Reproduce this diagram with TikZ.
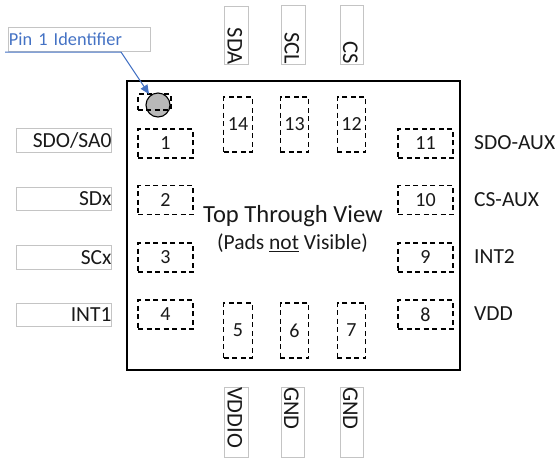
\documentclass[tikz,border=0pt]{standalone}
\usepackage{fontspec}
\setmainfont{Carlito}
\usetikzlibrary{arrows.meta}
\definecolor{pinblue}{RGB}{68,114,196}
\definecolor{boxgray}{RGB}{196,196,196}
\definecolor{txt}{RGB}{25,25,25}
\tikzset{
  padbox/.style={draw=black,line width=1.25pt,dash pattern=on 5pt off 3.5pt,minimum width=#1,inner sep=0pt,font=\fontsize{20}{20}\selectfont,text=txt},
  hpad/.style={padbox=55pt,minimum height=29pt},
  vpad/.style={padbox=28.5pt,minimum height=55pt},
  lblh/.style={draw=boxgray,line width=1pt,minimum height=23.5pt,text width=95pt,align=right,inner sep=0pt,font=\fontsize{21.5}{21.5}\selectfont,text=txt},
  lblvt/.style={draw=boxgray,line width=1pt,rotate=-90,minimum height=23.5pt,text width=58.5pt,text height=18pt,text depth=0pt,align=right,inner sep=0pt,font=\fontsize{22.5}{22.5}\selectfont,text=txt},
  lblvb/.style={draw=boxgray,line width=1pt,rotate=-90,minimum height=23.5pt,text width=70pt,text height=18pt,text depth=0pt,align=left,inner sep=0pt,font=\fontsize{22.5}{22.5}\selectfont,text=txt},
  plain/.style={anchor=west,inner sep=0pt,font=\fontsize{21.5}{21.5}\selectfont,text=txt},
}
\begin{document}
\begin{tikzpicture}[x=1pt,y=-1pt]
\useasboundingbox (0,0) rectangle (559,459);
% package body
\node[draw=black,line width=2.2pt,minimum width=333pt,minimum height=289pt,inner sep=0pt] (chip) at (293.5,225.5) {};
% pads
\node[hpad] (p1) at (165.5,143.5) {1};
\node[hpad] (p2) at (165.5,200) {2};
\node[hpad] (p3) at (165.5,257.5) {3};
\node[hpad] (p4) at (165.5,314.5) {4};
\node[vpad] (p5) at (238,330.5) {5};
\node[vpad] (p6) at (294.5,330.5) {6};
\node[vpad] (p7) at (351.5,330.5) {7};
\node[hpad] (p8) at (425.5,314.5) {8};
\node[hpad] (p9) at (425.5,257.5) {9};
\node[hpad] (p10) at (425.5,200) {10};
\node[hpad] (p11) at (425.5,143.5) {11};
\node[vpad] (p12) at (351.5,124.5) {12};
\node[vpad] (p13) at (294.5,124.5) {13};
\node[vpad] (p14) at (238,124.5) {14};
% pin 1 marker
\node[draw=black,line width=1.25pt,dash pattern=on 5pt off 3.5pt,minimum width=33pt,minimum height=16pt,inner sep=0pt] (pinpad) at (154.5,102) {};
\node[circle,draw=black,line width=1.1pt,fill=black!28,minimum size=24pt,inner sep=0pt] (dot) at (158,105) {};
\draw[black,line width=1.1pt,dash pattern=on 5pt off 3.5pt] (146,110) -- (171,110);
% centre text
\node[inner sep=0pt,font=\fontsize{24.6}{24.6}\selectfont,text=txt] (title) at (293,216.5) {Top Through View};
\node[inner sep=0pt,font=\fontsize{21.5}{21.5}\selectfont,text=txt] (sub) at (292.5,243) {(Pads \underline{not} Visible)};
% left labels
\node[lblh] (lsdo) at (64,140.5) {SDO/SA0};
\node[lblh] (lsdx) at (64,199) {SDx};
\node[lblh] (lscx) at (64,257.5) {SCx};
\node[lblh] (lint) at (64,315) {INT1};
% right labels
\node[plain] (rsdo) at (474,143) {SDO-AUX};
\node[plain] (rcs) at (474,200) {CS-AUX};
\node[plain] (rint) at (474,257) {INT2};
\node[plain] (rvdd) at (474,314) {VDD};
% top labels
\node[lblvt] (tsda) at (236.5,35.5) {SDA};
\node[lblvt] (tscl) at (293.5,35) {SCL};
\node[lblvt] (tcs) at (352,35) {CS};
% bottom labels
\node[lblvb] (bvdd) at (236.5,422) {VDDIO};
\node[lblvb] (bgnd) at (293,422) {GND};
\node[lblvb] (bgnb) at (352,422) {GND};
% pin 1 callout
\node[draw=boxgray,line width=1pt,minimum width=142pt,minimum height=23.5pt,text width=140pt,align=left,inner sep=1pt,font=\fontsize{18.3}{18.3}\selectfont,text=pinblue] (pinlbl) at (79,39.5) {Pin 1 Identifier};
\coordinate (calla) at (5,52);
\coordinate (callb) at (121,52);
\coordinate (callc) at (149,94);
\draw[pinblue,line width=1pt,-{Triangle[length=9pt,width=8pt]}] (calla) -- (callb) -- (callc);
\end{tikzpicture}
\end{document}
